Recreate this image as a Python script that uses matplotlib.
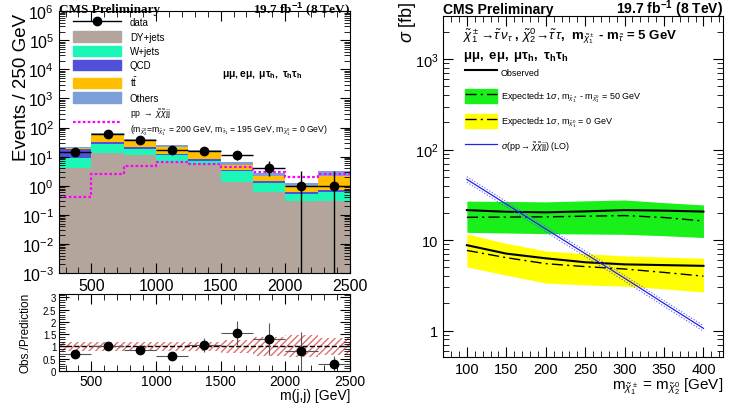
import numpy as np
import matplotlib
matplotlib.use("Agg")
import matplotlib.pyplot as plt
from matplotlib.lines import Line2D
from matplotlib.patches import Patch
from matplotlib.ticker import LogLocator, NullFormatter, MultipleLocator

plt.rcParams["font.family"] = ["Liberation Sans", "DejaVu Sans"]
plt.rcParams["mathtext.fontset"] = "custom"
plt.rcParams["mathtext.rm"] = "Liberation Sans"
plt.rcParams["mathtext.it"] = "Liberation Sans:italic"
plt.rcParams["mathtext.bf"] = "Liberation Sans:bold"

# ---- left panel data: m(j,j) distribution ----
edges = [250, 500, 750, 1000, 1250, 1500, 1750, 2000, 2250, 2500]
dy_jets = [4.0, 13.7, 11.0, 6.7, 5.7, 1.4, 0.62, 0.31, 0.31]
w_jets = [5.2, 14.3, 8.0, 4.3, 1.6, 1.7, 0.58, 0.22, 0.31]
qcd = [9.5, 5.0, 2.0, 1.0, 0.7, 0.3, 0.3, 0.07, 0.08]
ttbar = [1.3, 24.0, 15.0, 10.0, 7.0, 1.9, 0.7, 0.35, 1.5]
others = [2.0, 9.0, 6.0, 4.0, 2.0, 1.3, 0.6, 0.3, 0.9]
data = [15, 60, 36, 17, 16, 11, 4, 1, 1]
data_err_lo = [3.8, 7.7, 6.0, 4.1, 4.0, 3.3, 1.9, 1.0, 1.0]
data_err_hi = [4.9, 8.8, 7.0, 5.2, 5.1, 4.4, 3.2, 2.3, 2.3]
signal = [0.42, 2.5, 4.9, 6.5, 5.7, 4.3, 3.0, 2.0, 2.6]

ratio = [0.7, 1.0, 0.85, 0.6, 1.05, 1.55, 1.3, 0.8, 0.3]
ratio_err = [0.15, 0.12, 0.13, 0.12, 0.28, 0.5, 0.65, 0.8, 0.3]
band_err = [0.2, 0.18, 0.18, 0.2, 0.2, 0.25, 0.4, 0.45, 0.35]

# ---- right panel data: cross section limits ----
mass = [100, 150, 200, 250, 300, 350, 400]
obs_50 = [21.5, 20.6, 20.3, 20.8, 21.5, 21.2, 20.7]
exp_50 = [17.9, 18.0, 18.1, 18.4, 18.7, 17.8, 16.3]
exp_50_lo = [12.2, 12.0, 11.8, 11.7, 11.6, 11.2, 10.7]
exp_50_hi = [27.0, 26.8, 26.5, 27.2, 27.8, 26.0, 24.5]
obs_0 = [8.8, 7.1, 6.3, 5.7, 5.4, 5.3, 5.2]
exp_0 = [7.7, 6.4, 5.5, 5.1, 4.8, 4.4, 4.0]
exp_0_lo = [5.06, 4.1, 3.36, 3.2, 3.1, 2.9, 2.67]
exp_0_hi = [11.7, 9.2, 7.6, 7.1, 6.7, 6.5, 6.3]
xsec = [47, 25, 13.3, 7.1, 3.8, 2.0, 1.06]

c_dy = "#b4a59c"
c_w = "#1cf7b8"
c_qcd = "#5050d8"
c_tt = "#ffbe00"
c_oth = "#7d9fd8"


def root_style(ax):
    ax.tick_params(which="both", direction="in", top=True, right=True)
    ax.tick_params(which="major", length=7, width=0.8)
    ax.tick_params(which="minor", length=4, width=0.6)


fig = plt.figure(figsize=(7.29, 4.06), dpi=100)

# ================= left top =================
ax1 = fig.add_axes([0.081, 0.325, 0.399, 0.645])
ax1.set_yscale("log")
x = np.array(edges)
centers = 0.5 * (x[:-1] + x[1:])
halfw = 0.5 * (x[1:] - x[:-1])

bottom = np.full(len(dy_jets), 1e-4)
for vals, col in [(dy_jets, c_dy), (w_jets, c_w), (qcd, c_qcd), (ttbar, c_tt), (others, c_oth)]:
    top = bottom + np.array(vals)
    ax1.stairs(top, edges, baseline=bottom, fill=True, color=col, lw=0)
    bottom = top

sig_style = dict(color="#ff00ff", lw=1.6, ls=(0, (1.2, 1.0)))
ax1.stairs(signal, edges, baseline=None, **sig_style)
ax1.errorbar(centers, data, xerr=halfw, yerr=[data_err_lo, data_err_hi],
             fmt="o", color="black", ms=6, lw=1.0, capsize=0)

ax1.set_xlim(250, 2500)
ax1.set_ylim(1e-3, 1e6)
ax1.yaxis.set_major_locator(LogLocator(base=10, numticks=20))
ax1.yaxis.set_minor_locator(LogLocator(base=10, subs=np.arange(2, 10), numticks=50))
ax1.yaxis.set_minor_formatter(NullFormatter())
ax1.xaxis.set_major_locator(MultipleLocator(500))
ax1.xaxis.set_minor_locator(MultipleLocator(100))
root_style(ax1)
ax1.tick_params(labelsize=11.5)
ax1.set_ylabel("Events / 250 GeV", fontsize=13.5, loc="top")
ax1.yaxis.set_label_coords(-0.1, 0.995)

ax1.text(0.0, 0.996, "CMS Preliminary", transform=ax1.transAxes, fontsize=9.5,
         fontweight="bold", family="Liberation Serif", va="baseline", ha="left")
ax1.text(1.0, 0.996, r"19.7 fb$^{\mathbf{-1}}$ (8 TeV)", transform=ax1.transAxes, fontsize=9.5,
         fontweight="bold", family="Liberation Serif", va="baseline", ha="right")

handles = [
    Line2D([], [], color="black", marker="o", ms=6, lw=1.0),
    Patch(color=c_dy), Patch(color=c_w), Patch(color=c_qcd),
    Patch(color=c_tt), Patch(color=c_oth),
]
labels = ["data", "DY+jets", "W+jets", "QCD", r"t$\bar{\rm t}$", "Others"]
leg1 = ax1.legend(handles, labels, loc="upper left", bbox_to_anchor=(0.039, 0.989),
                  frameon=False, fontsize=7, handlelength=4.9, handleheight=1.24,
                  labelspacing=0.41, handletextpad=0.93, borderpad=0.3, borderaxespad=0)
ax1.add_artist(leg1)
ax1.legend([Line2D([], [], **sig_style)],
           ["pp $\\rightarrow$ $\\tilde{\\chi}\\tilde{\\chi}$jj\n"
            r"(m$_{\tilde{\chi}^0_2}$=m$_{\tilde{\chi}^\pm_1}$ = 200 GeV, m$_{\tilde{\tau}_1}$ = 195 GeV, "
            r"m$_{\tilde{\chi}^0_1}$ = 0 GeV)"],
           loc="upper left", bbox_to_anchor=(0.039, 0.645), frameon=False, fontsize=6.2,
           handlelength=5.57, handletextpad=1.05, borderpad=0.3, borderaxespad=0)
ax1.text(0.56, 0.76, r"$\mathbf{\mu\mu, e\mu,\ \mu\tau_h,\ \tau_h\tau_h}$",
         transform=ax1.transAxes, fontsize=7.5, va="center", ha="left")

# ================= left ratio =================
ax2 = fig.add_axes([0.081, 0.084, 0.399, 0.19], sharex=ax1)
lo = np.array([1 - b for b in band_err])
hi = np.array([1 + b for b in band_err])
ax2.fill_between(edges, np.append(lo, lo[-1]), np.append(hi, hi[-1]), step="post",
                 facecolor="none", edgecolor="#dd7070", hatch="/////", lw=0)
ax2.axhline(1.0, color="black", ls="--", lw=1.0)
ax2.errorbar(centers, ratio, xerr=halfw, yerr=ratio_err, fmt="o", color="black",
             ecolor="#555555", ms=6, lw=0.8, capsize=0)
ax2.set_ylim(0, 3.15)
ax2.yaxis.set_minor_locator(MultipleLocator(0.1))
root_style(ax2)
ax2.set_yticks([0, 0.5, 1, 1.5, 2, 2.5, 3], ["0", "0.5", "1", "1.5", "2", "2.5", "3"])
ax2.tick_params(axis="x", labelsize=10, pad=2)
ax2.tick_params(axis="y", labelsize=7, pad=2)
ax2.set_ylabel("Obs./Prediction", fontsize=8.5)
ax2.yaxis.set_label_coords(-0.095, 0.5)
ax2.set_xlabel("m(j,j) [GeV]", fontsize=10, loc="right", labelpad=0)

# ================= right panel =================
ax3 = fig.add_axes([0.608, 0.118, 0.384, 0.84])
ax3.set_yscale("log")
ax3.fill_between(mass, exp_50_lo, exp_50_hi, color="#19f019", lw=0)
ax3.fill_between(mass, exp_0_lo, exp_0_hi, color="#ffff00", lw=0)
ax3.plot(mass, obs_50, color="black", lw=1.5)
ax3.plot(mass, exp_50, color="black", lw=1.0, ls=(0, (8, 3, 1.5, 3)))
ax3.plot(mass, obs_0, color="black", lw=1.5)
ax3.plot(mass, exp_0, color="black", lw=1.0, ls=(0, (8, 3, 1.5, 3)))
xs = np.array(xsec)
ax3.plot(mass, xs * 1.07, color="#5a5aff", lw=0.8, ls=":")
ax3.plot(mass, xs * 0.93, color="#5a5aff", lw=0.8, ls=":")
ax3.plot(mass, xs, color="#2020f0", lw=0.9)

ax3.set_xlim(70, 425)
ax3.set_ylim(0.51, 3000)
ax3.xaxis.set_major_locator(MultipleLocator(50))
ax3.xaxis.set_minor_locator(MultipleLocator(10))
ax3.yaxis.set_minor_locator(LogLocator(base=10, subs=np.arange(2, 10), numticks=50))
ax3.yaxis.set_minor_formatter(NullFormatter())
ax3.set_yticks([1, 10, 100, 1000], ["1", "10", r"10$^2$", r"10$^3$"])
root_style(ax3)
ax3.tick_params(labelsize=10.5)
ax3.set_ylabel(r"$\sigma$ [fb]", fontsize=13, loc="top")
ax3.yaxis.set_label_coords(-0.09, 1.045)
ax3.set_xlabel(r"m$_{\tilde{\chi}^\pm_1}$ = m$_{\tilde{\chi}^0_2}$ [GeV]", fontsize=11,
               loc="right", labelpad=0)

ax3.text(0.0, 1.008, "CMS Preliminary", transform=ax3.transAxes, fontsize=10,
         fontweight="bold", va="baseline", ha="left")
ax3.text(1.0, 1.008, r"19.7 fb$^{\mathbf{-1}}$ (8 TeV)", transform=ax3.transAxes, fontsize=10,
         fontweight="bold", va="baseline", ha="right")
ax3.text(0.07, 0.945,
         r"$\tilde{\chi}^\pm_1\!\rightarrow\!\tilde{\tau}\,\nu_\tau$ , $\tilde{\chi}^0_2\!\rightarrow\!\tilde{\tau}\,\tau$,"
         r"  m$_{\tilde{\chi}^\pm_1}$ - m$_{\tilde{\tau}}$ = 5 GeV",
         transform=ax3.transAxes, fontsize=9.5, fontweight="bold", va="center", ha="left")
ax3.text(0.07, 0.882, r"$\mathbf{\mu\mu,\ e\mu,\ \mu\tau_h,\ \tau_h\tau_h}$",
         transform=ax3.transAxes, fontsize=9.5, va="center", ha="left")

dashdot = dict(color="black", lw=1.0, ls=(0, (8, 3, 1.5, 3)))
h_obs = Line2D([], [], color="black", lw=1.5)
h_g = (Patch(color="#19f019"), Line2D([], [], **dashdot))
h_y = (Patch(color="#ffff00"), Line2D([], [], **dashdot))
h_b = Line2D([], [], color="#2020f0", lw=0.9)
ax3.legend([h_obs, h_g, h_y, h_b],
           ["Observed",
            r"Expected$\pm$ 1$\sigma$, m$_{\tilde{\chi}^\pm_1}$ - m$_{\tilde{\chi}^0_1}$ = 50 GeV",
            r"Expected$\pm$ 1$\sigma$, m$_{\tilde{\chi}^0_1}$ = 0 GeV",
            r"$\sigma$(pp$\rightarrow\tilde{\chi}\tilde{\chi}$jj) (LO)"],
           loc="upper left", bbox_to_anchor=(0.05, 0.88), frameon=False, fontsize=6.5,
           handlelength=3.5, handleheight=2.0, labelspacing=1.1, handletextpad=0.4)

fig.savefig("out.png", dpi=100)
